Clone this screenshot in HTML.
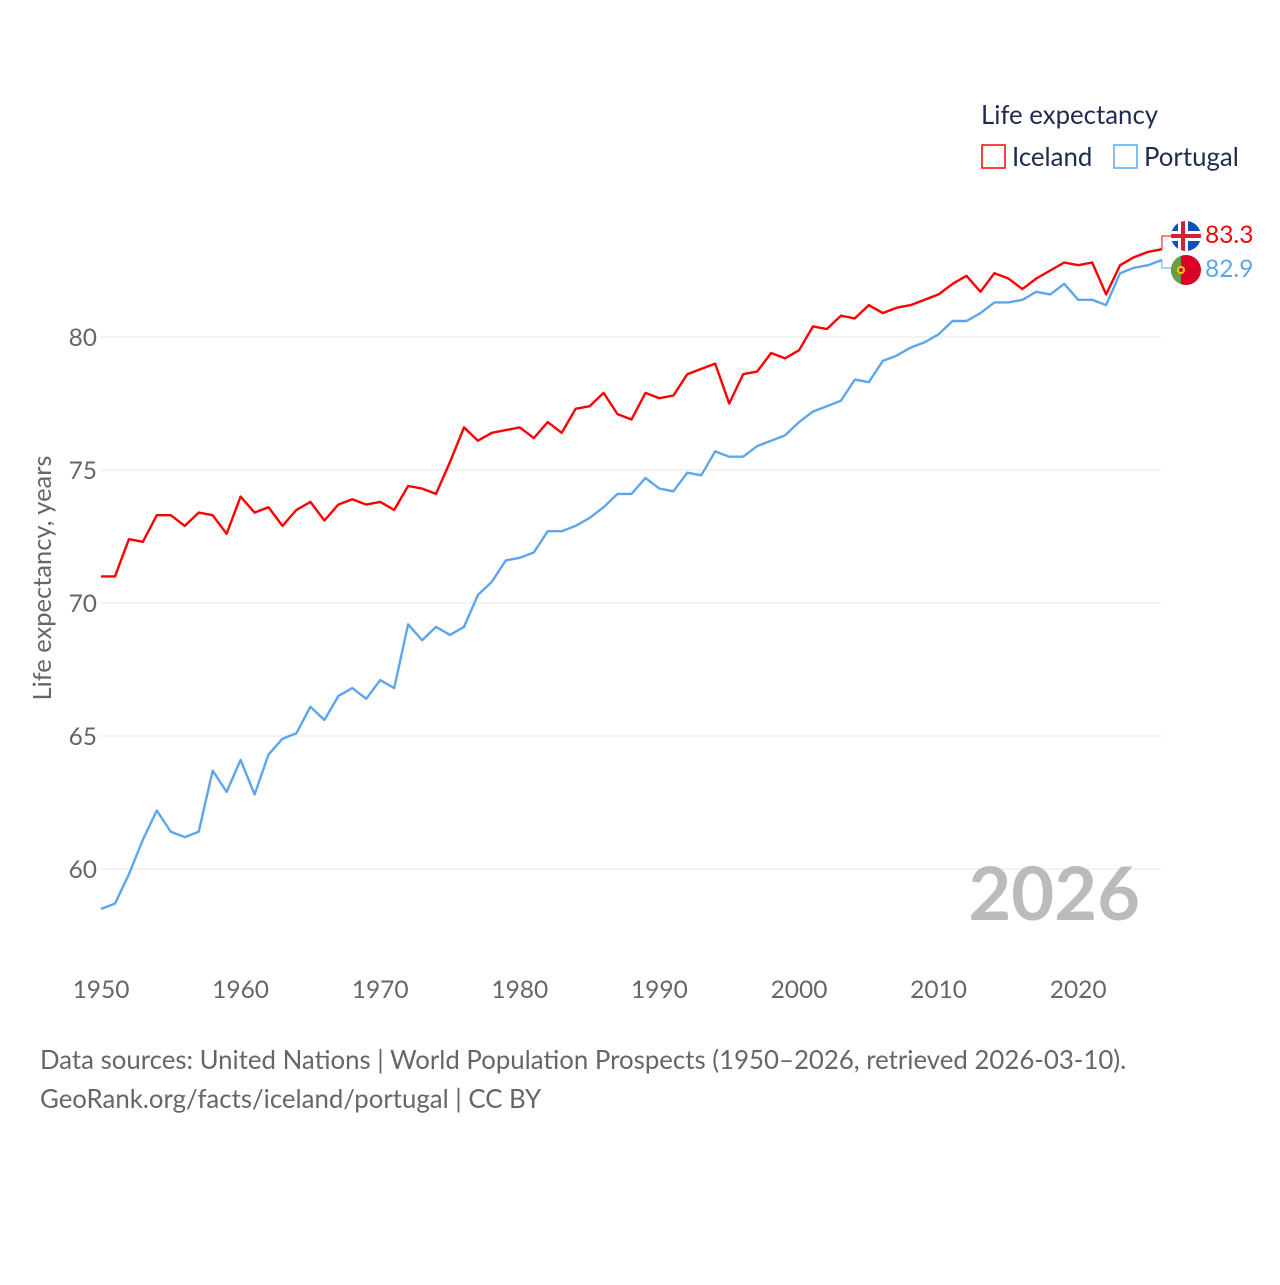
<!DOCTYPE html>
<html><head><meta charset="utf-8"><style>
body{margin:0;background:#fff;font-family:"Liberation Sans",sans-serif;}
svg text{font-family:"Lato","Liberation Sans",sans-serif;}
</style></head><body>
<svg id="chart" width="1280" height="1280" viewBox="0 0 1280 1280">
<g id="grid"></g>
<g id="yticks"></g>
<g id="xticks"></g>
<text x="51" y="578" transform="rotate(-90 51 578)" text-anchor="middle" font-size="25.5" fill="#666">Life expectancy, years</text>
<text x="1140" y="920" text-anchor="end" font-size="74" font-weight="bold" fill="#bbb">2026</text>
<g id="series"></g>
<g>
<text x="981" y="124" font-size="25.8" fill="#1d2b4f">Life expectancy</text>
<g><rect x="982" y="145" width="23" height="23" fill="none" stroke="#f00" stroke-width="1.5"/><text x="1012" y="166" font-size="25.8" fill="#1d2b4f">Iceland</text></g>
<g><rect x="1114" y="145" width="23" height="23" fill="none" stroke="#5ea6ec" stroke-width="1.5"/><text x="1144" y="166" font-size="25.8" fill="#1d2b4f">Portugal</text></g>
</g>
<g>
<clipPath id="c1"><circle cx="1186" cy="236" r="15"/></clipPath>
<g clip-path="url(#c1)"><rect x="1171" y="221" width="30" height="30" fill="#0a52be"/><rect x="1171" y="231" width="30" height="10" fill="#fff"/><rect x="1178" y="221" width="10" height="30" fill="#fff"/><rect x="1171" y="234" width="30" height="4" fill="#dc1e35"/><rect x="1181" y="221" width="4" height="30" fill="#dc1e35"/></g></g>
<g>
<clipPath id="c2"><circle cx="1186" cy="270" r="15"/></clipPath>
<g clip-path="url(#c2)"><rect x="1171" y="255" width="30" height="30" fill="#da0027"/><rect x="1171" y="255" width="10" height="30" fill="#6a9e44"/><circle cx="1181" cy="270" r="4" fill="#f5d000"/><circle cx="1181" cy="270" r="2" fill="#da0027"/></g></g>
<text x="1205" y="243" font-size="24.5" fill="#f00">83.3</text>
<text x="1205" y="277" font-size="24.5" fill="#5ea6ec">82.9</text>
<text x="40" y="1069" font-size="25.8" fill="#666">Data sources: United Nations | World Population Prospects (1950–2026, retrieved 2026-03-10).</text>
<text x="40" y="1108" font-size="25.8" fill="#666">GeoRank.org/facts/iceland/portugal | CC BY</text>
</svg>
<script>
const years=[];for(let y=1950;y<=2026;y++)years.push(y);
const iceland=[71.0,71.0,72.4,72.3,73.3,73.3,72.9,73.4,73.3,72.6,74.0,73.4,73.6,72.9,73.5,73.8,73.1,73.7,73.9,73.7,73.8,73.5,74.4,74.3,74.1,75.3,76.6,76.1,76.4,76.5,76.6,76.2,76.8,76.4,77.3,77.4,77.9,77.1,76.9,77.9,77.7,77.8,78.6,78.8,79.0,77.5,78.6,78.7,79.4,79.2,79.5,80.4,80.3,80.8,80.7,81.2,80.9,81.1,81.2,81.4,81.6,82.0,82.3,81.7,82.4,82.2,81.8,82.2,82.5,82.8,82.7,82.8,81.6,82.7,83.0,83.2,83.3];
const portugal=[58.5,58.7,59.8,61.1,62.2,61.4,61.2,61.4,63.7,62.9,64.1,62.8,64.3,64.9,65.1,66.1,65.6,66.5,66.8,66.4,67.1,66.8,69.2,68.6,69.1,68.8,69.1,70.3,70.8,71.6,71.7,71.9,72.7,72.7,72.9,73.2,73.6,74.1,74.1,74.7,74.3,74.2,74.9,74.8,75.7,75.5,75.5,75.9,76.1,76.3,76.8,77.2,77.4,77.6,78.4,78.3,79.1,79.3,79.6,79.8,80.1,80.6,80.6,80.9,81.3,81.3,81.4,81.7,81.6,82.0,81.4,81.4,81.2,82.4,82.6,82.7,82.9];
const yTicks=[60,65,70,75,80];
const xTicks=[1950,1960,1970,1980,1990,2000,2010,2020];
const NS='http://www.w3.org/2000/svg';
const X=y=>101+(y-1950)*13.96;
const Y=v=>337-(v-80)*26.6;
function mk(t,a,p){const e=document.createElementNS(NS,t);for(const k in a)e.setAttribute(k,a[k]);p.appendChild(e);return e;}
const grid=document.getElementById('grid'),yt=document.getElementById('yticks'),xt=document.getElementById('xticks'),ser=document.getElementById('series');
yTicks.forEach(v=>{
 const l=mk('line',{x1:101,x2:1161,y1:Y(v),y2:Y(v),stroke:'#e6e6e6','stroke-width':1},grid);
 
 
 const t=mk('text',{x:97,y:Y(v)+9,'text-anchor':'end','font-size':24.5,fill:'#666'},yt);t.textContent=v;
 
 
});
xTicks.forEach(v=>{
 const t=mk('text',{x:X(v),y:998,'text-anchor':'middle','font-size':24.5,fill:'#666'},xt);t.textContent=v;
 
 
});
function line(vals,color,name,ly){
 const d=vals.map((v,i)=>(i?'L':'M')+X(years[i]).toFixed(1)+' '+Y(v).toFixed(1)).join(' ');
 const p=mk('path',{d:d,fill:'none',stroke:color,'stroke-width':2.4,'stroke-linejoin':'round'},ser);
 
 
 const lx=X(years[years.length-1]),lv=Y(vals[vals.length-1]);
 const c=mk('path',{d:`M${lx} ${lv} L${lx} ${ly} L1172 ${ly}`,fill:'none',stroke:color,'stroke-width':1},ser);
 
 
}
line(iceland,'#ff0000','iceland',236);
line(portugal,'#5ea6ec','portugal',268);
</script>
</body></html>
